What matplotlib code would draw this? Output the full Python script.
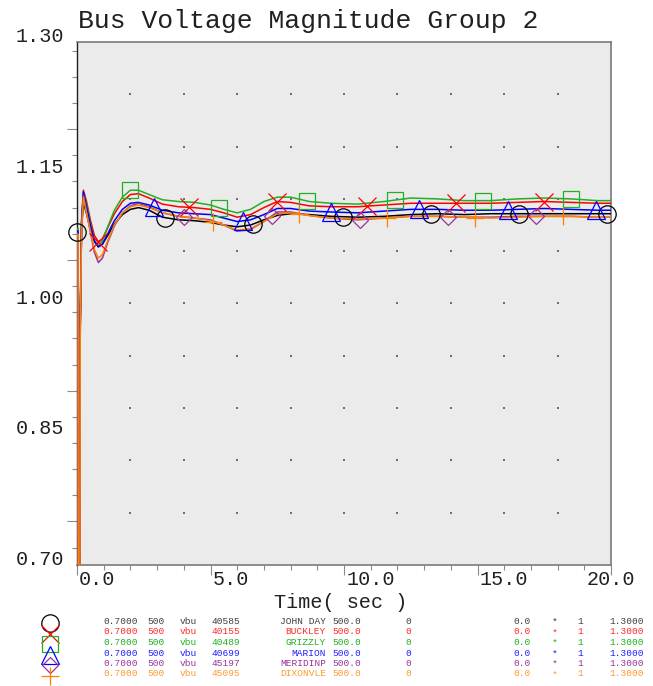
import matplotlib
matplotlib.use("Agg")
import matplotlib.pyplot as plt
import numpy as np
from matplotlib.ticker import MultipleLocator

# ---------------------------------------------------------------- data
time_s = [0.0, 0.04, 0.05, 0.10, 0.12, 0.17, 0.24, 0.35, 0.5, 0.65, 0.8, 0.95,
          1.15, 1.4, 1.7, 2.0, 2.3, 2.7, 3.2, 3.8, 4.4, 5.0, 5.5, 6.0, 6.5,
          7.0, 7.5, 8.0, 8.7, 9.5, 10.5, 11.5, 12.5, 13.5, 14.5, 15.5, 16.5,
          17.5, 18.5, 19.5, 20.0]

v_john_day = [1.082, 1.082, 0.40, 0.40, 0.97, 1.085, 1.116, 1.104, 1.086, 1.071, 1.065, 1.068,
              1.078, 1.091, 1.102, 1.108, 1.110, 1.107, 1.099, 1.096, 1.095, 1.093, 1.090, 1.088, 1.090,
              1.096, 1.101, 1.103, 1.102, 1.100, 1.099, 1.100, 1.102, 1.103, 1.102, 1.103, 1.103,
              1.103, 1.103, 1.103, 1.103]
v_buckley = [1.085, 1.085, 0.40, 0.40, 0.98, 1.095, 1.130, 1.118, 1.096, 1.078, 1.071, 1.074,
             1.087, 1.103, 1.117, 1.125, 1.126, 1.121, 1.114, 1.111, 1.110, 1.108, 1.104, 1.099, 1.102,
             1.110, 1.117, 1.116, 1.112, 1.111, 1.111, 1.113, 1.115, 1.115, 1.115, 1.115, 1.116,
             1.117, 1.116, 1.115, 1.115]
v_grizzly = [1.086, 1.086, 0.40, 0.40, 0.98, 1.092, 1.127, 1.115, 1.092, 1.072, 1.066, 1.072,
             1.088, 1.107, 1.122, 1.130, 1.130, 1.125, 1.119, 1.117, 1.116, 1.113, 1.108, 1.104, 1.108,
             1.117, 1.122, 1.122, 1.117, 1.115, 1.114, 1.117, 1.121, 1.120, 1.118, 1.118, 1.120,
             1.121, 1.120, 1.118, 1.118]
v_marion = [1.083, 1.083, 0.40, 0.40, 0.97, 1.092, 1.128, 1.112, 1.090, 1.072, 1.065, 1.068,
            1.080, 1.095, 1.108, 1.115, 1.116, 1.113, 1.107, 1.104, 1.103, 1.102, 1.098, 1.094, 1.096,
            1.102, 1.109, 1.109, 1.106, 1.105, 1.104, 1.106, 1.108, 1.108, 1.107, 1.107, 1.108,
            1.109, 1.108, 1.107, 1.107]
v_meridinp = [1.080, 1.080, 0.40, 0.40, 0.96, 1.085, 1.124, 1.106, 1.082, 1.059, 1.047, 1.052,
              1.070, 1.089, 1.104, 1.112, 1.115, 1.111, 1.104, 1.100, 1.098, 1.096, 1.090, 1.083, 1.085,
              1.094, 1.105, 1.105, 1.101, 1.098, 1.096, 1.098, 1.100, 1.100, 1.099, 1.099, 1.100,
              1.100, 1.100, 1.099, 1.099]
v_dixonvle = [1.079, 1.079, 0.40, 0.40, 0.96, 1.084, 1.122, 1.105, 1.083, 1.062, 1.052, 1.056,
              1.072, 1.090, 1.104, 1.111, 1.113, 1.110, 1.104, 1.100, 1.098, 1.095, 1.090, 1.084, 1.086,
              1.094, 1.103, 1.104, 1.101, 1.098, 1.097, 1.098, 1.100, 1.100, 1.099, 1.098, 1.099,
              1.100, 1.100, 1.099, 1.099]

# symbol stations along each trace (seconds)
marks_john_day = [0.0, 3.3, 6.6, 9.95, 13.25, 16.55, 19.85]
marks_buckley = [0.8, 4.2, 7.5, 10.85, 14.2, 17.5]
marks_grizzly = [2.0, 5.3, 8.6, 11.9, 15.2, 18.5]
marks_marion = [2.9, 6.2, 9.5, 12.8, 16.15, 19.45]
marks_meridinp = [4.0, 7.3, 10.6, 13.9, 17.2]
marks_dixonvle = [5.1, 8.3, 11.6, 14.9, 18.2]

bus_numbers = ["40585", "40155", "40489", "40699", "45197", "45095"]
bus_names = ["JOHN DAY", "BUCKLEY", "GRIZZLY", "MARION", "MERIDINP", "DIXONVLE"]
bus_kv = "500.0"
channel_min = "0.7000"
channel_max = "1.3000"

y_ticks = [0.70, 0.85, 1.00, 1.15, 1.30]
y_tick_labels = ["0.70", "0.85", "1.00", "1.15", "1.30"]
x_ticks = [0.0, 5.0, 10.0, 15.0, 20.0]
x_tick_labels = ["0.0", "5.0", "10.0", "15.0", "20.0"]

# ---------------------------------------------------------------- style
FONT = "Liberation Mono"
colors = ["#000000", "#ff0000", "#22b022", "#0000ff", "#993399", "#ff8000"]
text_colors = ["#404040", "#ff2a2a", "#22b022", "#2020ff", "#993399", "#ff9a30"]
markers = ["o", "x", "s", "^", "D", "+"]
msizes = [12.5, 12.5, 12, 12.5, 8.5, 13]

series = [v_john_day, v_buckley, v_grizzly, v_marion, v_meridinp, v_dixonvle]
mark_times = [marks_john_day, marks_buckley, marks_grizzly, marks_marion,
              marks_meridinp, marks_dixonvle]

W, H = 653, 686
fig = plt.figure(figsize=(W / 100, H / 100), dpi=100)
fig.patch.set_facecolor("white")

L, R, T, B = 77, 611, 42, 565
ax = fig.add_axes([L / W, 1 - B / H, (R - L) / W, (B - T) / H])
ax.set_xlim(0, 20)
ax.set_ylim(0.70, 1.30)
ax.set_facecolor("#ebebeb")

for side in ["top", "right", "bottom"]:
    ax.spines[side].set_color("#7a7a7a")
    ax.spines[side].set_linewidth(1.2)
ax.spines["left"].set_color("#202020")
ax.spines["left"].set_linewidth(1.0)

ax.yaxis.set_major_locator(MultipleLocator(0.15))
ax.yaxis.set_minor_locator(MultipleLocator(0.03))
ax.xaxis.set_major_locator(MultipleLocator(5))
ax.xaxis.set_minor_locator(MultipleLocator(1))
ax.tick_params(axis="both", which="major", direction="out", length=7.2,
               width=0.8, color="#8a8a8a", labelleft=False, labelbottom=False)
ax.tick_params(axis="both", which="minor", direction="out", length=3.6,
               width=0.8, color="#8a8a8a")

# dotted reference grid
gx, gy = np.meshgrid(np.arange(2, 19, 2), np.arange(0.76, 1.25, 0.06))
ax.scatter(gx.ravel(), gy.ravel(), s=2.2, marker="s", color="#6e6e6e",
           linewidths=0, zorder=1)

for vals, mt, c, m, ms in zip(series, mark_times, colors, markers, msizes):
    ax.plot(time_s, vals, color=c, lw=1.1, zorder=3)
    my = np.interp(mt, time_s, vals)
    ax.plot(mt, my, linestyle="none", marker=m, markersize=ms,
            markerfacecolor="none", markeredgecolor=c, markeredgewidth=0.9,
            zorder=4, clip_on=False)

# tick labels
ytr = ax.get_yaxis_transform()
for v, lab in zip(y_ticks, y_tick_labels):
    ax.text((64 - L) / (R - L), v, lab, transform=ytr, ha="right",
            va="baseline", fontsize=14.5, family=FONT, color="#202020")
xtr = ax.get_xaxis_transform()
for t, lab in zip(x_ticks, x_tick_labels):
    if t < 20:
        ax.text(t + 0.08, (B - 585) / (B - T), lab, transform=xtr, ha="left",
                va="baseline", fontsize=14.5, family=FONT, color="#202020")
    else:
        ax.text(t, (B - 585) / (B - T), lab, transform=xtr, ha="center",
                va="baseline", fontsize=14.5, family=FONT, color="#202020")

# overlay in pixel space for title, axis label and channel table
ov = fig.add_axes([0, 0, 1, 1], facecolor="none")
ov.set_xlim(0, W)
ov.set_ylim(H, 0)
ov.axis("off")

ov.text(78, 28, "Bus Voltage Magnitude Group 2", fontsize=19, family=FONT,
        ha="left", va="baseline", color="#202020")
ov.text(341, 602, "Time( sec )", fontsize=14.5, family=FONT, ha="center",
        va="center", color="#202020")

row_y = [621.5, 632, 642.5, 653, 663.5, 674]
for i in range(6):
    y = row_y[i]
    tc = text_colors[i]
    ov.plot(50, y + 1.5, marker=markers[i], markersize=msizes[i],
            markerfacecolor="none", markeredgecolor=colors[i],
            markeredgewidth=0.9, linestyle="none", clip_on=False)
    kw = dict(fontsize=6.8, family=FONT, color=tc, va="center")
    ov.text(103, y, channel_min, ha="left", **kw)
    ov.text(147, y, "500", ha="left", **kw)
    ov.text(180, y, "vbu", ha="left", **kw)
    ov.text(212, y, bus_numbers[i], ha="left", **kw)
    ov.text(326, y, bus_names[i], ha="right", **kw)
    ov.text(332, y, bus_kv, ha="left", **kw)
    ov.text(405, y, "0", ha="left", **kw)
    ov.text(513, y, "0.0", ha="left", **kw)
    ov.text(552, y + 1, "*", ha="left", **kw)
    ov.text(577, y, "1", ha="left", **kw)
    ov.text(609, y, channel_max, ha="left", **kw)

fig.savefig("out.png", dpi=100)
